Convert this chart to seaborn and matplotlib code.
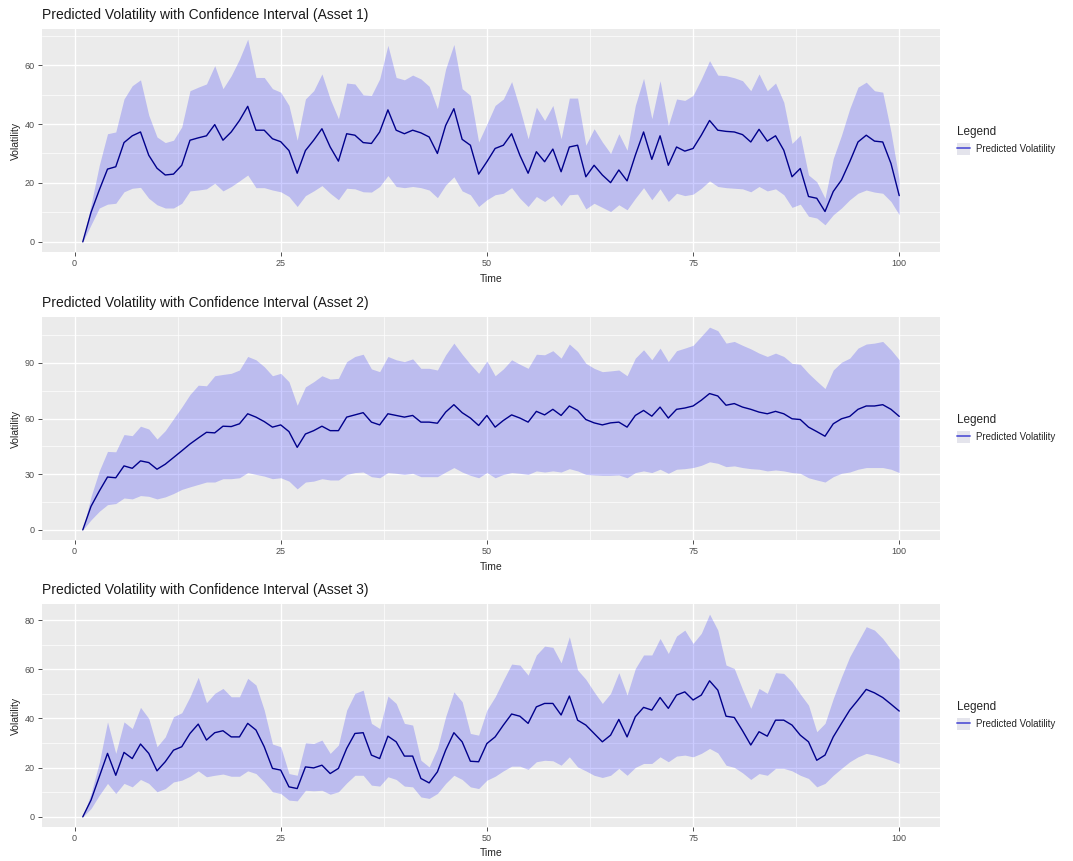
import numpy as np
import pandas as pd
import matplotlib
matplotlib.use("Agg")
import matplotlib.pyplot as plt
from matplotlib.ticker import MultipleLocator
from matplotlib.patches import Patch
from matplotlib.lines import Line2D
import seaborn as sns

# time steps 1..100
time = np.arange(1, 101)

# Asset 1 - predicted volatility and CI bounds
a1_mean = [0, 10, 17.6, 24.7, 25.5, 33.7, 36, 37.3, 29.4, 25,
           22.7, 23, 26, 34.5, 35.3, 36, 39.8, 34.5, 37.3, 41.2,
           46, 37.9, 37.9, 35, 34, 31, 23.3, 31, 34.5, 38.4,
           32.2, 27.4, 36.7, 36.2, 33.7, 33.4, 37.3, 44.8, 37.9, 36.7,
           37.9, 37, 35.6, 30, 39.5, 45.2, 34.8, 32.8, 23, 27.2,
           31.7, 32.8, 36.7, 29.4, 23.3, 30.6, 27.2, 31.5, 23.8, 32.2,
           32.8, 22.1, 26, 22.7, 20.1, 24.4, 20.7, 29.4, 37.3, 28,
           36, 26, 32.2, 30.8, 31.7, 36.2, 41.2, 37.9, 37.5, 37.3,
           36.4, 33.9, 38.2, 34.2, 36, 31.1, 22.1, 24.9, 15.4, 14.8,
           10.3, 17.1, 21, 27.2, 33.9, 36.2, 34.2, 33.9, 26.6, 15.7]
a1_hi = [0, 12.6, 26, 36.7, 37.3, 48.5, 53, 55, 43, 35.6,
         33.7, 34.5, 39, 51.3, 52.5, 53.6, 59.8, 52, 56.4, 62,
         68.8, 55.8, 55.8, 52, 50.8, 46.3, 34.5, 48.5, 51.3, 57,
         48.5, 41.8, 53.9, 53.6, 49.9, 49.7, 55.3, 66.7, 55.8, 55,
         56.6, 55.3, 52.8, 45.2, 58.7, 67, 52, 49.7, 33.9, 40,
         46.3, 48.5, 54.4, 45.2, 35, 45.7, 41.2, 46.3, 35, 48.8,
         48.8, 32.8, 38.4, 33.9, 30, 36.7, 31.1, 46.3, 55.5, 41.8,
         54.7, 39.5, 48.5, 48, 49.7, 55.3, 61.5, 56.6, 56.4, 55.7,
         54.7, 51.3, 57, 51.3, 53.9, 47.4, 33.4, 36.2, 22.7, 20.4,
         14.8, 28.3, 36.2, 45.2, 52.5, 54.2, 51.3, 50.8, 37.3, 21]
a1_lo = [0, 5.8, 11.5, 12.8, 13.1, 17, 18.2, 18.5, 14.8, 12.6,
         11.5, 11.5, 13.1, 17.3, 17.6, 18, 19.9, 17.3, 18.8, 20.7,
         22.7, 18.4, 18.4, 17.6, 17, 15.4, 12, 15.7, 17.3, 19.1,
         16.5, 14.3, 18.2, 18, 17, 16.9, 18.8, 22.5, 18.8, 18.4,
         18.8, 18.4, 17.6, 15, 19.3, 22.1, 17.3, 16, 12, 14.3,
         16, 16.5, 18.4, 14.8, 12, 15.4, 13.7, 15.7, 12.3, 16,
         16.2, 11.2, 13.1, 11.7, 10.3, 12.6, 10.9, 14.8, 18.4, 14.3,
         18, 13.7, 16.5, 15.7, 16.2, 18.2, 20.7, 18.8, 18.4, 18.2,
         18, 17, 18.8, 17.3, 18, 16, 11.7, 12.8, 8.7, 8.1,
         5.8, 9.2, 11.5, 14.3, 16.5, 17.6, 16.9, 16.5, 13.7, 9.2]

# Asset 2
a2_mean = [0, 12.7, 20.9, 28.5, 28.1, 34.5, 33.2, 37.2, 36.3, 32.7,
           35.4, 39, 42.6, 46.3, 49.5, 52.6, 52.3, 55.9, 55.7, 57.2,
           62.6, 60.8, 58.4, 55.4, 56.6, 53, 44.5, 51.7, 53.5, 55.9,
           53.5, 53.5, 60.8, 62, 63.2, 58.1, 56.6, 62.6, 61.7, 60.8,
           61.7, 58.1, 58.1, 57.5, 63.5, 67.5, 63.2, 60.3, 56.3, 61.7,
           55.4, 59, 62, 60.3, 58.1, 63.9, 62, 65, 61.7, 66.8,
           64.4, 59.5, 57.7, 56.6, 57.7, 58.1, 55.4, 61.7, 64.4, 61.3,
           66.2, 60.3, 65, 65.7, 66.8, 69.9, 73.5, 72.2, 67.2, 68.1,
           66.2, 65, 63.5, 62.6, 63.9, 62.6, 59.9, 59.5, 55.4, 53,
           50.5, 57.2, 59.9, 61.2, 65, 66.8, 66.8, 67.5, 65, 61.2]
a2_hi = [0, 18, 31.8, 42.3, 42.1, 51.4, 50.8, 55.9, 54.4, 49,
         53.5, 59.9, 66.2, 73, 78, 77.7, 83.1, 83.8, 84.4, 86.2,
         93.5, 91.7, 88, 83.1, 84.4, 79.9, 67.2, 77.1, 79.9, 83.1,
         81.3, 81.7, 90.7, 93.5, 94.7, 86.8, 85.3, 93.5, 91.7, 90.7,
         92.2, 87.1, 87.1, 86.2, 94.4, 100.7, 94.7, 89.3, 84.4, 91.1,
         83.1, 86.8, 91.7, 89.3, 87.1, 94.7, 94.4, 96.6, 92.6, 100.2,
         96.2, 89.8, 87.1, 85.3, 85.7, 86.2, 83.1, 92.6, 97.1, 91.7,
         98, 90.7, 96.6, 98, 99.5, 104.4, 109.3, 107.4, 100.7, 101.6,
         99.5, 97.6, 95.3, 93.5, 95.3, 93.5, 89.8, 89.3, 84.4, 80.2,
         76.2, 86.2, 90.4, 92.6, 98, 100.2, 100.7, 101.6, 97.1, 91.7]
a2_lo = [0, 5.4, 10, 13.6, 14.2, 17.2, 16.7, 18.5, 18.1, 16.7,
         17.8, 19.6, 21.8, 23.2, 24.5, 25.8, 25.8, 27.6, 27.6, 28.1,
         30.9, 29.9, 29, 27.6, 28.1, 26.3, 22.1, 25.8, 26.3, 27.6,
         26.9, 26.9, 29.9, 30.9, 31.2, 28.7, 28.1, 30.9, 30.5, 29.9,
         30.5, 28.7, 28.7, 28.7, 31.2, 33.6, 31.2, 29.4, 28.1, 30.9,
         28.1, 29.9, 30.9, 30.5, 29.9, 31.8, 31.2, 31.8, 31.2, 33,
         31.8, 29.9, 29.6, 29.4, 29.4, 29.6, 28.1, 30.9, 31.8, 30.9,
         32.7, 30.5, 32.7, 33, 33.6, 34.8, 36.7, 35.9, 34.1, 34.5,
         33.6, 33, 32.7, 31.8, 32.3, 31.8, 30.9, 30.5, 28.1, 26.9,
         25.8, 28.7, 30.5, 31.2, 32.7, 33.6, 33.6, 33.6, 32.7, 30.9]

# Asset 3
a3_mean = [0, 6.8, 16.3, 25.8, 16.9, 26.2, 23.7, 29.6, 25.8, 18.7,
           22.4, 27.1, 28.5, 33.9, 37.7, 31.2, 34.2, 35, 32.5, 32.5,
           38, 35.3, 28.5, 19.7, 19, 12.2, 11.5, 20.3, 19.9, 21,
           17.6, 19.7, 27.8, 33.9, 34.2, 25.1, 23.7, 32.8, 30.5, 24.7,
           24.7, 15.6, 13.8, 18.3, 27.1, 34.2, 30.5, 22.6, 22.4, 29.8,
           32.5, 37.3, 41.8, 40.9, 38, 44.7, 46.1, 46.1, 41.4, 49.1,
           39.3, 37.3, 33.9, 30.5, 33.2, 39.6, 32.5, 40.7, 44.5, 43.4,
           48.5, 44.1, 49.5, 50.8, 47.5, 49.5, 55.3, 51.5, 40.9, 40.4,
           35, 29.2, 34.6, 32.8, 39.3, 39.3, 37.3, 33.2, 30.5, 23,
           25.1, 32.5, 38, 43.4, 47.5, 51.8, 50.4, 48.5, 45.8, 43]
a3_hi = [0, 9.5, 22, 38.6, 25.8, 38.6, 35.9, 44.5, 40, 28.5,
         32.5, 40.7, 42.3, 48.8, 56.7, 46.4, 50.2, 52.2, 48.8, 48.8,
         56.3, 53.6, 43.4, 29.6, 28.5, 17.6, 16.9, 30.1, 29.8, 31.2,
         25.8, 29.2, 43.4, 50.2, 51.5, 38, 35.9, 49.1, 46.1, 38,
         37.3, 23, 20.3, 27.8, 40.7, 50.8, 46.8, 33.9, 33.2, 43.4,
         48.8, 55.6, 62.1, 61.7, 57.6, 65.8, 69.4, 68.9, 62.6, 73.2,
         59.7, 55.9, 50.8, 46.1, 50.2, 58.6, 49.5, 60.3, 65.8, 65.8,
         72.5, 66.4, 73.5, 75.9, 70.5, 74.6, 82.4, 75.9, 61.7, 60.3,
         51.8, 44.1, 52.2, 50.2, 58.6, 58.3, 54.9, 49.9, 45.4, 34.6,
         38, 48.1, 56.9, 65.1, 71.2, 77.3, 75.9, 72.5, 68.1, 64]
a3_lo = [0, 3.4, 8.8, 13.6, 9.5, 13.6, 12.2, 15.2, 13.6, 10.2,
         11.5, 14.2, 14.9, 16.5, 18.7, 16.3, 16.9, 17.4, 16.5, 16.5,
         18.7, 17.6, 14.2, 10.2, 9.5, 6.8, 6.5, 10.8, 10.6, 10.8,
         9.2, 10.2, 13.8, 16.9, 16.9, 12.9, 12.5, 16.3, 15.2, 12.5,
         12.2, 8.1, 7.5, 9.5, 13.6, 16.9, 15.2, 12.2, 11.5, 14.9,
         16.5, 18.7, 20.6, 20.6, 19.3, 22.4, 23, 22.8, 21, 24.4,
         20.3, 18.7, 16.9, 16, 16.9, 19.7, 16.9, 20.1, 21.7, 21.7,
         24.4, 22.4, 24.7, 25.1, 24.4, 25.8, 27.8, 26, 21, 20.1,
         17.9, 15.2, 17.6, 16.9, 19.7, 19.7, 18.7, 16.9, 15.6, 12.2,
         13.6, 16.9, 19.7, 22.4, 24.4, 25.8, 25.1, 24.1, 23, 21.7]

x_ticks = [0, 25, 50, 75, 100]
y_ticks = [[0, 20, 40, 60], [0, 30, 60, 90], [0, 20, 40, 60, 80]]

# ggplot2 theme_grey look-alike
sns.set_theme(style="darkgrid", rc={
    "axes.facecolor": "#EBEBEB",
    "grid.color": "white",
    "axes.edgecolor": "none",
    "xtick.bottom": True, "ytick.left": True,
    "xtick.color": "#333333", "ytick.color": "#333333",
    "xtick.labelcolor": "#4D4D4D", "ytick.labelcolor": "#4D4D4D",
    "xtick.major.size": 3, "ytick.major.size": 3,
    "xtick.major.width": 0.6, "ytick.major.width": 0.6,
    "xtick.major.pad": 2, "ytick.major.pad": 2,
})
plt.rcParams['font.family'] = ['Liberation Sans', 'DejaVu Sans']

fig = plt.figure(figsize=(10.73, 8.61), dpi=100)

# panel boxes in figure fractions (left, bottom, width, height)
boxes = [(0.0391, 0.7073, 0.837, 0.259),
         (0.0391, 0.3728, 0.837, 0.259),
         (0.0391, 0.0395, 0.837, 0.259)]
series = [(a1_mean, a1_lo, a1_hi), (a2_mean, a2_lo, a2_hi), (a3_mean, a3_lo, a3_hi)]

for i, ((mean, lo, hi), box) in enumerate(zip(series, boxes)):
    ax = fig.add_axes(box)
    df = pd.DataFrame({"Time": time, "Volatility": mean, "lo": lo, "hi": hi})
    ax.fill_between(df["Time"], df["lo"], df["hi"], color="blue", alpha=0.2, lw=0)
    sns.lineplot(data=df, x="Time", y="Volatility", ax=ax, color="#00008B", lw=1.0)

    # ggplot default 5% expansion
    ymin, ymax = 0, max(hi)
    r = ymax - ymin
    ax.set_ylim(ymin - 0.05 * r, ymax + 0.05 * r)
    ax.set_xlim(1 - 0.05 * 99, 100 + 0.05 * 99)

    yt = y_ticks[i]
    ax.set_xticks(x_ticks)
    ax.set_yticks(yt)
    ax.xaxis.set_minor_locator(MultipleLocator(12.5))
    ax.yaxis.set_minor_locator(MultipleLocator((yt[1] - yt[0]) / 2))
    ax.grid(which="major", color="white", lw=1.0)
    ax.grid(which="minor", color="white", lw=0.5)
    ax.tick_params(which="minor", length=0)
    ax.tick_params(axis="both", labelsize=6.5)

    ax.set_title(f"Predicted Volatility with Confidence Interval (Asset {i + 1})",
                 loc="left", fontsize=10, color="#1a1a1a", pad=7)
    ax.set_xlabel("Time", fontsize=7.5, labelpad=4)
    ax.set_ylabel("Volatility", fontsize=7.5, labelpad=3)

    handle = (Patch(facecolor="#E4E4EC", edgecolor="none"),
              Line2D([], [], color="#5a5ad6", lw=1.3))
    leg = ax.legend([handle], ["Predicted Volatility"], title="Legend",
                    loc="center left", bbox_to_anchor=(1.014, 0.5), borderaxespad=0,
                    frameon=False, fontsize=7, title_fontsize=8.5,
                    handlelength=1.4, handleheight=1.4,
                    handletextpad=0.6, alignment="left")

fig.savefig("out.png", dpi=100)
